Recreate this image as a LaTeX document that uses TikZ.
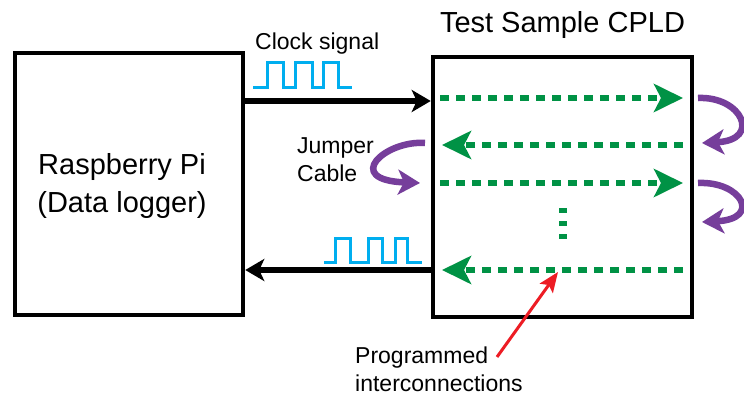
\documentclass[tikz,border=0pt]{standalone}
\usepackage{fontspec}
\setmainfont{Liberation Sans}
\usetikzlibrary{positioning, arrows.meta, calc}

\definecolor{wiregreen}{RGB}{0,146,69}
\definecolor{jumperpurple}{RGB}{118,62,155}
\definecolor{clockblue}{RGB}{0,174,239}
\definecolor{pointred}{RGB}{237,28,36}

\tikzset{
  blockbox/.style={draw, line width=4.5pt, fill=white, inner sep=0pt, align=center},
  bus/.style={line width=6pt, -{Stealth[length=19pt,width=22pt,inset=5pt]}},
  link/.style={wiregreen, line width=5.5pt, dash pattern=on 9pt off 7pt,
    -{Stealth[length=29pt,width=28pt,inset=7pt]}},
  jumper/.style={jumperpurple, line width=6.5pt, -{Stealth[length=22pt,width=25pt,inset=6pt]}},
  clock/.style={clockblue, line width=3pt},
  lbl/.style={font=\fontsize{23}{28}\selectfont, align=left, inner sep=0pt},
}

\begin{document}
\begin{tikzpicture}[x=1pt, y=-1pt]
  \fill[white] (0,0) rectangle (744,396);
  \useasboundingbox (0,0) rectangle (744,396);

  % the two boards
  \node[blockbox, minimum width=228pt, minimum height=262pt] (rpi) at (129,184) {};
  \node[font=\fontsize{29}{37}\selectfont, align=center, inner sep=0pt] (rpilbl)
    at ($(rpi.center)+(-7,2)$) {Raspberry Pi\\(Data logger)};
  \node[blockbox, minimum width=259pt, minimum height=260pt] (cpld) at (562.5,187) {};
  \node[font=\fontsize{29}{35}\selectfont, inner sep=0pt, above=16pt of cpld] (title) {Test Sample CPLD};

  % clock in / clock out
  \coordinate (in1) at (cpld.west |- 0,101);
  \coordinate (out1) at (cpld.west |- 0,270);
  \draw[bus] (rpi.east |- in1) -- (in1);
  \draw[bus] (out1) -- (rpi.east |- out1);

  \node[lbl, anchor=base west] (clklbl) at (255,50) {Clock signal};
  \draw[clock] (253,87) -- (267,87) -- (267,63) -- (283,63) -- (283,87) -- (295,87) -- (295,63)
    -- (312,63) -- (312,87) -- (323,87) -- (323,63) -- (338,63) -- (338,87) -- (352,87);
  \draw[clock] (324,262) -- (335,262) -- (335,238) -- (350,238) -- (350,262) -- (368,262) -- (368,238)
    -- (382,238) -- (382,262) -- (395,262) -- (395,238) -- (407,238) -- (407,262) -- (422,262);

  % programmed interconnections
  \coordinate (a1) at (440,98);  \coordinate (b1) at (683,98);
  \coordinate (a2) at (683,145); \coordinate (b2) at (442,145);
  \coordinate (a3) at (440,183); \coordinate (b3) at (683,183);
  \coordinate (a4) at (683,270); \coordinate (b4) at (442,270);
  \draw[link] (a1) -- (b1);
  \draw[link] (a2) -- (b2);
  \draw[link] (a3) -- (b3);
  \draw[link] (a4) -- (b4);
  \draw[wiregreen, line width=8pt, dash pattern=on 5pt off 8pt] (563,208) -- (563,243);

  % jumper cables
  \coordinate (j1s) at (698,98);  \coordinate (j1e) at (702,143);
  \coordinate (j2s) at (698,183); \coordinate (j2e) at (702,222);
  \coordinate (j0s) at (425,143); \coordinate (j0e) at (420,183);
  \draw[jumper] (j1s) .. controls (742,96) and (762,140) .. (j1e);
  \draw[jumper] (j2s) .. controls (742,181) and (762,219) .. (j2e);
  \draw[jumper] (j0s) .. controls (385,140) and (342,180) .. (j0e);
  \node[lbl, anchor=north west] (jmplbl) at (297,137) {Jumper\\Cable};

  % pointer to the wires
  \node[lbl, anchor=north west] (prog) at (355,347) {Programmed\\interconnections};
  \coordinate (ptail) at (497,357);
  \coordinate (phead) at (558,272);
  \draw[pointred, line width=3pt, -{Stealth[length=20pt,width=16pt,inset=4pt]}] (ptail) -- (phead);
\end{tikzpicture}
\end{document}
